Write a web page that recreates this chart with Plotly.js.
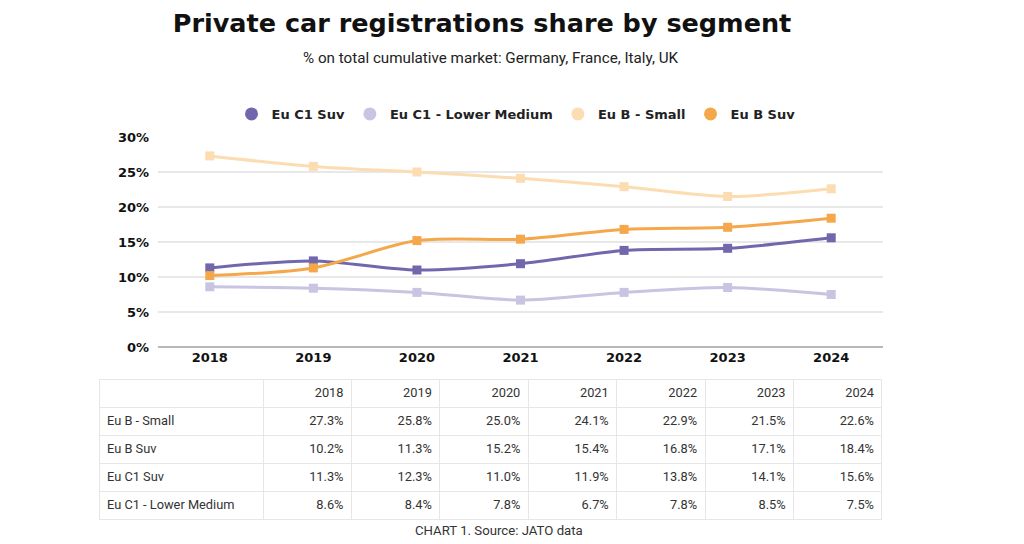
<!DOCTYPE html>
<html>
<head>
<meta charset="utf-8">
<script src="https://cdn.plot.ly/plotly-3.0.1.min.js"></script>
<style>
html,body{margin:0;padding:0;background:#fff;}
#chart{width:1024px;height:544px;}
</style>
</head>
<body>
<div id="chart"></div>
<script>
// ---- data ----
const years = ['2018','2019','2020','2021','2022','2023','2024'];
const euBSmall = [27.3, 25.8, 25.0, 24.1, 22.9, 21.5, 22.6];
const euBSuv = [10.2, 11.3, 15.2, 15.4, 16.8, 17.1, 18.4];
const euC1Suv = [11.3, 12.3, 11.0, 11.9, 13.8, 14.1, 15.6];
const euC1Lower = [8.6, 8.4, 7.8, 6.7, 7.8, 8.5, 7.5];
const seriesNames = ['Eu C1 Suv', 'Eu C1 - Lower Medium', 'Eu B - Small', 'Eu B Suv'];
const tableRowNames = ['Eu B - Small', 'Eu B Suv', 'Eu C1 Suv', 'Eu C1 - Lower Medium'];
const yTickVals = [0, 5, 10, 15, 20, 25, 30];
const yTickText = ['0%', '5%', '10%', '15%', '20%', '25%', '30%'];

// ---- styles ----
const colors = {
  'Eu C1 Suv': '#7167ad',
  'Eu C1 - Lower Medium': '#c8c4e1',
  'Eu B - Small': '#fcdcb1',
  'Eu B Suv': '#f5a84b'
};
const seriesData = {
  'Eu C1 Suv': euC1Suv,
  'Eu C1 - Lower Medium': euC1Lower,
  'Eu B - Small': euBSmall,
  'Eu B Suv': euBSuv
};
const W = 1024, H = 544;
const boldFont = 'DejaVu Sans, sans-serif';

const traces = [];
// drawn lines (order for overlap)
['Eu C1 - Lower Medium', 'Eu B - Small', 'Eu C1 Suv', 'Eu B Suv'].forEach(n => {
  traces.push({
    type: 'scatter', mode: 'lines+markers', name: n, showlegend: false,
    x: years, y: seriesData[n],
    line: {color: colors[n], width: 3, shape: 'spline', smoothing: 0.8},
    marker: {color: colors[n], symbol: 'square', size: 9},
    hoverinfo: 'skip', xaxis: 'x', yaxis: 'y'
  });
});
// legend entries (circle symbols)
seriesNames.forEach(n => {
  traces.push({
    type: 'scatter', mode: 'markers', name: n, showlegend: true,
    x: [null], y: [null],
    marker: {color: colors[n], symbol: 'circle', size: 13},
    hoverinfo: 'skip', xaxis: 'x', yaxis: 'y'
  });
});

// table
const fmt = v => v.toFixed(1) + '%';
const tableCols = [tableRowNames];
years.forEach((y, i) => {
  tableCols.push([fmt(euBSmall[i]), fmt(euBSuv[i]), fmt(euC1Suv[i]), fmt(euC1Lower[i])]);
});
traces.push({
  type: 'table',
  domain: {x: [99 / W, 882 / W], y: [1 - 521 / H, 1 - 379 / H]},
  columnwidth: [164, 88.4, 88.4, 88.4, 88.4, 88.4, 88.4, 88.4],
  header: {
    values: [''].concat(years),
    align: ['left', 'right'],
    height: 28,
    fill: {color: '#ffffff'},
    line: {color: '#e6e6e6', width: 1},
    font: {family: 'Roboto, sans-serif', size: 12.8, color: '#333333'}
  },
  cells: {
    values: tableCols,
    align: ['left', 'right'],
    height: 28,
    fill: {color: '#ffffff'},
    line: {color: '#e6e6e6', width: 1},
    font: {family: 'Roboto, sans-serif', size: 12.8, color: '#333333'}
  }
});

const layout = {
  width: W, height: H,
  margin: {l: 0, r: 0, t: 0, b: 0},
  paper_bgcolor: '#ffffff', plot_bgcolor: '#ffffff',
  showlegend: true,
  title: {
    text: 'Private car registrations share by segment',
    font: {family: boldFont, size: 25.5, color: '#111111', weight: 'bold'},
    x: 482 / W, xanchor: 'center', xref: 'paper',
    y: 1 - 23 / H, yanchor: 'middle', yref: 'container'
  },
  legend: {
    orientation: 'h', x: 516 / W, xanchor: 'center', y: 1 - 114 / H, yanchor: 'middle',
    font: {family: boldFont, size: 13, color: '#222222', weight: 'bold'},
    itemclick: false, itemdoubleclick: false
  },
  xaxis: {
    domain: [158 / W, 883 / W],
    type: 'category', range: [-0.5, 6.5],
    showgrid: false, zeroline: false, showline: false,
    ticks: '', ticklabelstandoff: 1,
    tickfont: {family: boldFont, size: 13, color: '#111111', weight: 'bold'},
    fixedrange: true
  },
  yaxis: {
    domain: [1 - 347 / H, 1 - 137 / H],
    range: [0, 30],
    tickvals: yTickVals, ticktext: yTickText,
    showgrid: true, gridcolor: '#e8e8e8', gridwidth: 2,
    zeroline: true, zerolinecolor: '#b8b8b8', zerolinewidth: 2,
    showline: false, ticks: '', ticklabelstandoff: 8,
    tickfont: {family: boldFont, size: 13, color: '#111111', weight: 'bold'},
    fixedrange: true
  },
  annotations: [
    {
      text: '% on total cumulative market: Germany, France, Italy, UK',
      xref: 'paper', yref: 'paper', x: 490 / W, y: 1 - 58 / H,
      xanchor: 'center', yanchor: 'middle', showarrow: false,
      font: {family: 'Roboto, sans-serif', size: 15.2, color: '#222222'}
    },
    {
      text: 'CHART 1. Source: JATO data',
      xref: 'paper', yref: 'paper', x: 499 / W, y: 1 - 530 / H,
      xanchor: 'center', yanchor: 'middle', showarrow: false,
      font: {family: 'Roboto, sans-serif', size: 13.2, color: '#333333'}
    }
  ]
};

Plotly.newPlot('chart', traces, layout, {displayModeBar: false, staticPlot: true});
</script>
</body>
</html>
